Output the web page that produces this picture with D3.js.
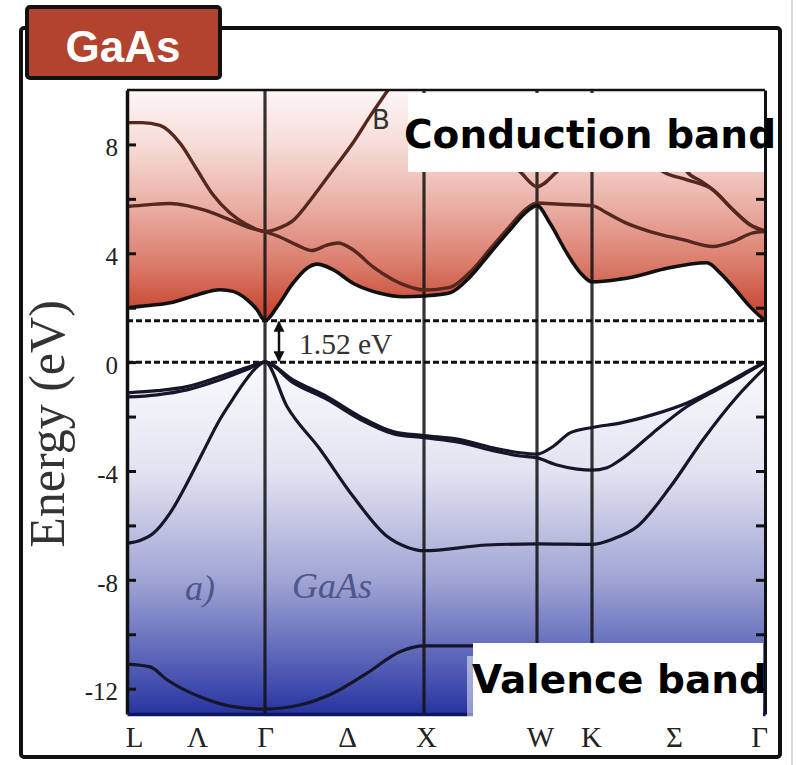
<!DOCTYPE html>
<html><head><meta charset="utf-8">
<script src="https://cdn.jsdelivr.net/npm/d3@7"></script>
<style>body{margin:0;background:#fff} svg{display:block}</style>
</head><body><svg id="c" width="796" height="765"></svg>
<script>
// ---- data ----
const kPointNames = ["L","Γ","X","W","K","Γ"];
const kPointPos = [0,138,297,410,465,638];
const kLabelNames = ["L","Λ","Γ","Δ","X","W","K","Σ","Γ"];
const kLabelPos = [7,70,138,220,299,413,464,547,632];
const energyTicks = [-12,-10,-8,-6,-4,-2,0,2,4,6,8];
const energyRange = [-12.93,10];
const gapEnergy = 1.52;
const vbmEnergy = 0;
const gapLabel = "1.52 eV";

const cb1 = [[0,2.0],[13,2.05],[43,2.18],[70,2.47],[93,2.66],[106,2.6],[120,2.3],[130,1.93],[138,1.52],[150,2.03],[166,2.9],[180,3.45],[190,3.6],[206,3.4],[226,2.9],[253,2.53],[276,2.4],[297,2.43],[323,2.55],[343,3.13],[363,4.0],[383,4.86],[398,5.48],[410,5.75],[423,5.1],[440,4.0],[453,3.3],[465,2.95],[493,3.05],[506,3.13],[540,3.45],[580,3.65],[593,3.28],[606,2.77],[623,2.04],[638,1.52]];
const cb2 = [[0,5.72],[20,5.78],[43,5.83],[60,5.75],[76,5.6],[103,5.23],[123,4.93],[138,4.8],[153,4.6],[170,4.3],[185,4.1],[200,4.3],[211,4.38],[226,4.13],[246,3.5],[266,3.03],[286,2.73],[297,2.65],[323,2.75],[343,3.3],[363,4.15],[383,5.0],[398,5.6],[410,5.85],[433,5.8],[465,5.75],[480,5.48],[500,5.1],[523,4.8],[556,4.5],[586,4.25],[606,4.43],[626,4.75],[638,4.8]];
const cb3 = [[0,8.8],[15,8.8],[33,8.7],[53,8.05],[70,7.07],[86,6.15],[103,5.48],[120,5.05],[138,4.8],[150,4.9],[166,5.2],[186,6.08],[206,7.07],[226,8.06],[243,9.03],[261,10.0]];
const cb4 = [[380,7.4],[393,7.0],[410,6.45],[430,7.0],[442,7.4]];
const cb5 = [[520,7.5],[536,7.0],[560,6.7],[586,6.33],[606,5.6],[623,5.05],[638,4.82]];
const cb6 = [[552,7.5],[560,7.0],[574,6.65],[586,6.33],[606,5.6],[623,5.05],[638,4.82]];
const vb1 = [[0,-1.13],[30,-1.05],[60,-0.9],[93,-0.53],[120,-0.2],[138,0],[166,-0.65],[200,-1.27],[233,-2.0],[266,-2.55],[297,-2.7],[333,-2.85],[366,-3.15],[393,-3.33],[410,-3.38],[426,-3.1],[443,-2.6],[465,-2.4],[493,-2.24],[526,-1.93],[560,-1.5],[593,-0.9],[615,-0.45],[638,0]];
const vb1b = [[0,-1.28],[30,-1.2],[60,-1.02],[93,-0.65],[120,-0.27],[138,0],[166,-0.75],[200,-1.37],[233,-2.1],[266,-2.63],[297,-2.78],[333,-2.95],[366,-3.25],[393,-3.45],[410,-3.52],[430,-3.78],[450,-3.93],[465,-3.97],[480,-3.88],[493,-3.6],[526,-2.6],[560,-1.63],[593,-0.95],[615,-0.5],[638,0]];
const vb2 = [[0,-6.65],[13,-6.55],[26,-6.3],[43,-5.55],[60,-4.45],[76,-3.3],[93,-2.1],[106,-1.35],[120,-0.6],[138,0],[160,-1.63],[193,-3.2],[226,-4.93],[260,-6.4],[280,-6.8],[297,-6.93],[360,-6.72],[410,-6.68],[465,-6.7],[486,-6.5],[510,-6.05],[543,-4.6],[576,-2.85],[610,-1.27],[638,-0.2]];
const vb3 = [[0,-11.1],[23,-11.2],[40,-11.67],[73,-12.3],[106,-12.66],[138,-12.75],[173,-12.6],[206,-12.17],[240,-11.43],[273,-10.64],[297,-10.43],[346,-10.43]];

const conductionBands = [cb2, cb3, cb4, cb5, cb6];
const valenceBands = [vb1, vb1b, vb2, vb3];

// ---- drawing ----
const svg = d3.select("#c");
const L = 127, R = 765, T = 90, B = 714;
const x = d3.scaleLinear().domain([0,638]).range([L,R]);
const y = d3.scaleLinear().domain(energyRange).range([B,T]);

const defs = svg.append("defs");
const rg = defs.append("linearGradient").attr("id","red").attr("gradientUnits","userSpaceOnUse")
  .attr("x1",0).attr("x2",0).attr("y1",y(10)).attr("y2",y(gapEnergy));
[[0,"rgb(253,247,246)"],[0.25,"rgb(246,218,213)"],[0.5,"rgb(234,175,165)"],[0.75,"rgb(219,125,108)"],[1,"rgb(196,62,40)"]]
  .forEach(s=>rg.append("stop").attr("offset",s[0]).attr("stop-color",s[1]));
const bg = defs.append("linearGradient").attr("id","blue").attr("gradientUnits","userSpaceOnUse")
  .attr("x1",0).attr("x2",0).attr("y1",y(0)).attr("y2",y(energyRange[0]));
[[0,"rgb(250,250,253)"],[0.31,"rgb(226,227,241)"],[0.62,"rgb(160,164,212)"],[0.93,"rgb(62,74,172)"],[1,"rgb(40,52,158)"]]
  .forEach(s=>bg.append("stop").attr("offset",s[0]).attr("stop-color",s[1]));
const mk = defs.append("marker").attr("id","arr").attr("viewBox","0 0 10 10").attr("refX",9).attr("refY",5)
  .attr("markerWidth",11).attr("markerHeight",11).attr("markerUnits","userSpaceOnUse").attr("orient","auto-start-reverse");
mk.append("path").attr("d","M0,0 L10,5 L0,10 z").attr("fill","#111");

// outer frame
svg.append("line").attr("x1",792).attr("x2",792).attr("y1",0).attr("y2",765).attr("stroke","#ccc").attr("stroke-width",1.5);
svg.append("rect").attr("x",21).attr("y",28).attr("width",759).attr("height",729).attr("rx",3)
  .attr("fill","none").attr("stroke","#111").attr("stroke-width",4);

const curve = d3.curveMonotoneX;
// fills
svg.append("path").datum(cb1).attr("fill","url(#red)")
  .attr("d", d3.area().curve(curve).x(d=>x(d[0])).y0(y(energyRange[1])).y1(d=>y(d[1])));
svg.append("path").datum(vb1).attr("fill","url(#blue)")
  .attr("d", d3.area().curve(curve).x(d=>x(d[0])).y0(d=>y(d[1])).y1(y(energyRange[0])));

// symmetry lines
svg.append("g").selectAll("line").data(kPointPos.slice(1,5)).join("line")
  .attr("x1",d=>x(d)).attr("x2",d=>x(d)).attr("y1",T).attr("y2",B)
  .attr("stroke","#111").attr("stroke-opacity",0.85).attr("stroke-width",3.2);

// dashed lines
svg.append("g").selectAll("line").data([gapEnergy, vbmEnergy]).join("line")
  .attr("x1",L).attr("x2",R).attr("y1",d=>y(d)).attr("y2",d=>y(d))
  .attr("stroke","#111").attr("stroke-width",3).attr("stroke-dasharray","6,3");

const line = d3.line().curve(curve).x(d=>x(d[0])).y(d=>y(d[1]));
const clip = defs.append("clipPath").attr("id","pc");
clip.append("rect").attr("x",L).attr("y",T).attr("width",R-L).attr("height",B-T);
const bands = svg.append("g").attr("clip-path","url(#pc)");
bands.selectAll("path.cb").data(conductionBands).join("path").attr("class","cb")
  .attr("d",line).attr("fill","none").attr("stroke","#55281f").attr("stroke-width",3.4);
bands.append("path").datum(cb1).attr("d",line).attr("fill","none").attr("stroke","#111").attr("stroke-width",3.6);
bands.selectAll("path.vb").data(valenceBands).join("path").attr("class","vb")
  .attr("d",line).attr("fill","none").attr("stroke","#16162a").attr("stroke-width",3.2);

// axes
const yl = svg.append("g").attr("transform",`translate(${L},0)`)
  .call(d3.axisLeft(y).tickValues(energyTicks).tickSizeInner(-9).tickSizeOuter(0).tickPadding(9)
    .tickFormat(d=> d%4===0 ? String(d) : ""));
yl.select(".domain").attr("stroke","#111").attr("stroke-width",3.5);
yl.selectAll(".tick line").attr("stroke","#111").attr("stroke-width",3);
yl.selectAll(".tick text").attr("font-family","'Liberation Serif','Times New Roman',serif")
  .attr("font-size",25).attr("fill","#222").attr("dy","0.45em");
const yr = svg.append("g").attr("transform",`translate(${R},0)`)
  .call(d3.axisRight(y).tickValues(energyTicks).tickSizeInner(-9).tickSizeOuter(0).tickFormat(""));
yr.select(".domain").attr("stroke","#111").attr("stroke-width",3);
yr.selectAll(".tick line").attr("stroke","#111").attr("stroke-width",3);
svg.append("line").attr("x1",L).attr("x2",R).attr("y1",T).attr("y2",T).attr("stroke","#111").attr("stroke-width",2.5);
const xa = svg.append("g").attr("transform",`translate(0,${B})`)
  .call(d3.axisBottom(x).tickValues(kLabelPos).tickSize(0).tickPadding(12).tickFormat((d,i)=>kLabelNames[i]));
xa.select(".domain").attr("stroke","#0c1660").attr("stroke-width",3.5);
xa.selectAll(".tick text").attr("font-family","'Liberation Serif','Times New Roman',serif")
  .attr("font-size",29).attr("fill","#222");

svg.append("text").attr("transform",`translate(64,424) rotate(-90)`).attr("text-anchor","middle")
  .attr("font-family","'Liberation Serif','Times New Roman',serif").attr("font-size",50).attr("fill","#333")
  .text("Energy (eV)");

// gap arrow + label
svg.append("line").attr("x1",279).attr("x2",279).attr("y1",y(gapEnergy)+1).attr("y2",y(vbmEnergy)-1)
  .attr("stroke","#111").attr("stroke-width",2.5).attr("marker-start","url(#arr)").attr("marker-end","url(#arr)");
svg.append("text").attr("x",299).attr("y",354).attr("font-family","'Liberation Serif','Times New Roman',serif")
  .attr("font-size",29.5).attr("fill","#333").text(gapLabel);

// inner italic labels
svg.append("text").attr("x",185).attr("y",600).attr("font-family","'Liberation Serif',serif").attr("font-style","italic")
  .attr("font-size",36).attr("fill","#4f5688").text("a)");
svg.append("text").attr("x",292).attr("y",598).attr("font-family","'Liberation Serif',serif").attr("font-style","italic")
  .attr("font-size",36).attr("fill","#4f5688").text("GaAs");

// B scribble
svg.append("text").attr("x",372).attr("y",129).attr("font-family","'DejaVu Sans',sans-serif")
  .attr("font-size",26).attr("fill","#333").text("B");

// overlay boxes
svg.append("rect").attr("x",408).attr("y",93).attr("width",356).attr("height",79).attr("fill","#fff");
svg.append("text").attr("x",404).attr("y",148).attr("font-family","'DejaVu Sans',sans-serif").attr("font-weight","bold")
  .attr("font-size",39).attr("fill","#000").text("Conduction band");
svg.append("rect").attr("x",467).attr("y",656).attr("width",8).attr("height",61).attr("fill","#fff").attr("fill-opacity",0.5);
svg.append("rect").attr("x",473).attr("y",643).attr("width",290).attr("height",74).attr("fill","#fff");
svg.append("text").attr("x",472).attr("y",693).attr("font-family","'DejaVu Sans',sans-serif").attr("font-weight","bold")
  .attr("font-size",39).attr("fill","#000").text("Valence band");

// title badge
svg.append("rect").attr("x",27).attr("y",7).attr("width",193).attr("height",71).attr("rx",3)
  .attr("fill","#b2432f").attr("stroke","#111").attr("stroke-width",4);
svg.append("text").attr("x",123).attr("y",62).attr("text-anchor","middle")
  .attr("font-family","'Liberation Sans',Arial,sans-serif").attr("font-weight","bold")
  .attr("font-size",44).attr("fill","#fff").text("GaAs");
</script></body></html>
